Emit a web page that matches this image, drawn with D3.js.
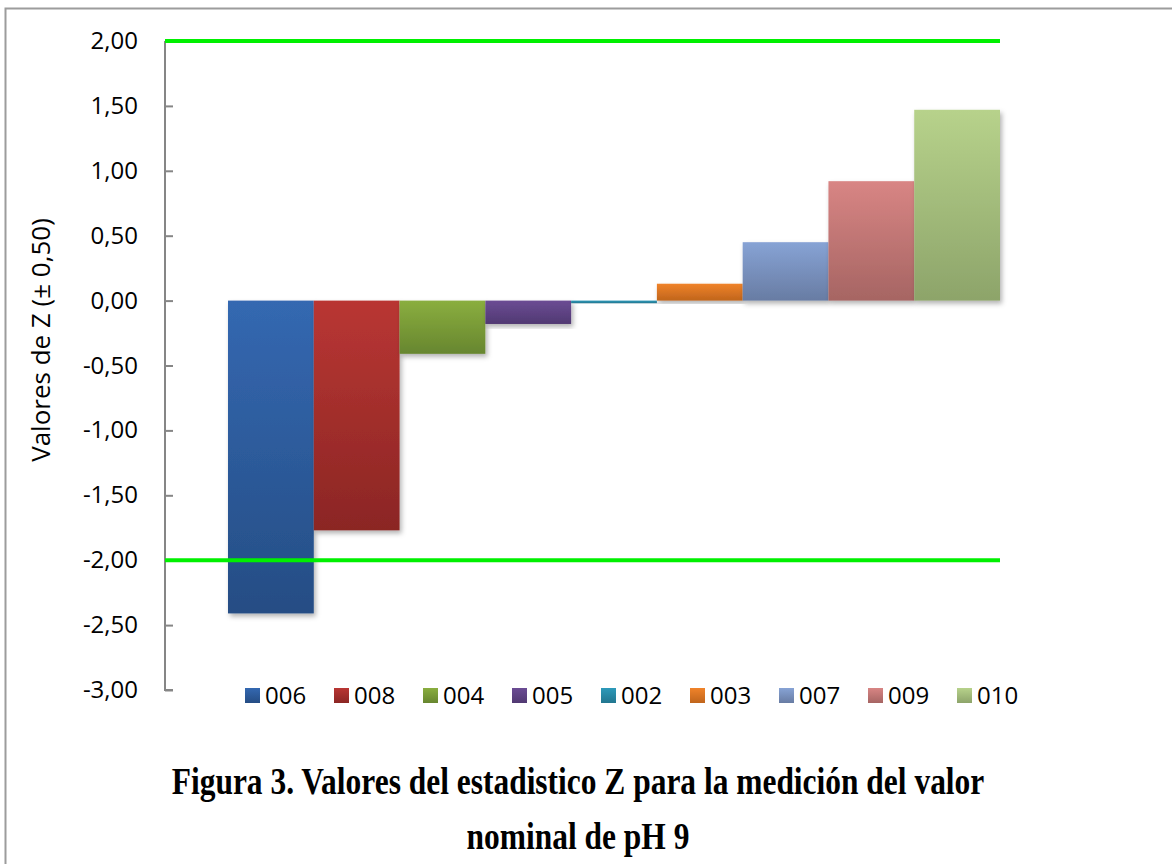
<!DOCTYPE html>
<html>
<head>
<meta charset="utf-8">
<script src="https://cdn.jsdelivr.net/npm/d3@7"></script>
<style>
  body { margin: 0; background: #fff; }
  svg { display: block; }
</style>
</head>
<body>
<div id="chart"></div>
<script>
// labs in the order they are drawn, and their Z values
var labs = ["006", "008", "004", "005", "002", "003", "007", "009", "010"];
var zValues = [-2.41, -1.77, -0.41, -0.18, -0.02, 0.13, 0.45, 0.92, 1.47];
// top / bottom colours of each bar gradient
var topColors = ["#3468b1", "#b93633", "#8aae3f", "#6b4c94", "#2d9aba", "#f0832a", "#87a3d5", "#d88584", "#b7d28b"];
var bottomColors = ["#254d84", "#8b2624", "#67862f", "#513972", "#22768f", "#c0651c", "#687ca3", "#a66563", "#8da46a"];
var yTicks = [2, 1.5, 1, 0.5, 0, -0.5, -1, -1.5, -2, -2.5, -3];
var limits = [2, -2];

var width = 1172, height = 864;

var svg = d3.select("#chart").append("svg")
    .attr("width", width)
    .attr("height", height);

// outer frame (cut off at right and bottom like the scan)
svg.append("rect")
    .attr("x", 5.5).attr("y", 8.5)
    .attr("width", width + 10).attr("height", height + 10)
    .attr("fill", "none")
    .attr("stroke", "#9c9c9c")
    .attr("stroke-width", 2);

var defs = svg.append("defs");

var shadow = defs.append("filter")
    .attr("id", "shadow")
    .attr("x", "-10%").attr("y", "-10%")
    .attr("width", "130%").attr("height", "130%");
shadow.append("feDropShadow")
    .attr("dx", 2).attr("dy", 3)
    .attr("stdDeviation", 2.5)
    .attr("flood-color", "#000")
    .attr("flood-opacity", 0.3);

labs.forEach(function(l, i) {
  var g = defs.append("linearGradient")
      .attr("id", "grad" + i)
      .attr("x1", "0%").attr("y1", "0%")
      .attr("x2", "0%").attr("y2", "100%");
  g.append("stop").attr("offset", "0%").attr("stop-color", topColors[i]);
  g.append("stop").attr("offset", "100%").attr("stop-color", bottomColors[i]);
});

var y = d3.scaleLinear()
    .domain([-3, 2])
    .range([690, 41]);

var x = d3.scaleBand()
    .domain(labs)
    .range([228, 1000])
    .padding(0);

var axisX = 165;

// bars
svg.append("g").selectAll("rect")
    .data(zValues)
    .enter().append("rect")
    .attr("x", function(d, i) { return x(labs[i]); })
    .attr("y", function(d) { return y(Math.max(0, d)); })
    .attr("width", x.bandwidth())
    .attr("height", function(d) { return Math.max(2.5, Math.abs(y(d) - y(0))); })
    .attr("fill", function(d, i) { return "url(#grad" + i + ")"; })
    .attr("filter", "url(#shadow)");

// y axis
var yAxis = d3.axisRight(y)
    .tickValues(yTicks)
    .tickSize(8)
    .tickFormat("");

var ax = svg.append("g")
    .attr("transform", "translate(" + axisX + ",0)")
    .call(yAxis);
ax.select(".domain").attr("stroke", "#868686").attr("stroke-width", 2)
    .attr("d", "M0," + y(2) + "V" + y(-3) + "H8");
ax.selectAll(".tick line").attr("stroke", "#868686").attr("stroke-width", 2);

svg.append("g").selectAll("text")
    .data(yTicks)
    .enter().append("text")
    .attr("x", 138)
    .attr("y", function(d) { return y(d) + 8; })
    .attr("text-anchor", "end")
    .style("font-family", "Open Sans")
    .style("font-size", "24px")
    .attr("fill", "#000")
    .text(function(d) { return d3.format(".2f")(d).replace(".", ",").replace("\u2212", "-"); });

// limit lines at +/-2
svg.append("g").selectAll("line")
    .data(limits)
    .enter().append("line")
    .attr("x1", axisX)
    .attr("x2", x.range()[1])
    .attr("y1", function(d) { return y(d); })
    .attr("y2", function(d) { return y(d); })
    .attr("stroke", "#00f000")
    .attr("stroke-width", 4);

// y title
svg.append("text")
    .attr("transform", "translate(50,340) rotate(-90)")
    .attr("text-anchor", "middle")
    .style("font-family", "Open Sans")
    .style("font-size", "26px")
    .text("Valores de Z (\u00b1 0,50)");

// legend
var leg = svg.append("g").selectAll("g")
    .data(labs)
    .enter().append("g")
    .attr("transform", function(d, i) { return "translate(" + (245 + i * 89) + ",688)"; });
leg.append("rect")
    .attr("width", 15).attr("height", 15)
    .attr("fill", function(d, i) { return "url(#grad" + i + ")"; });
leg.append("text")
    .attr("x", 20)
    .attr("y", 16)
    .style("font-family", "Open Sans")
    .style("font-size", "24px")
    .text(function(d) { return d; });

// caption (narrow, tall serif like the scan)
var cap = svg.append("text")
    .attr("transform", "translate(578,0) scale(0.85,1)")
    .attr("text-anchor", "middle")
    .style("font-family", "Liberation Serif")
    .style("font-weight", "bold")
    .style("font-size", "37px");
cap.append("tspan").attr("x", 0).attr("y", 794)
    .text("Figura 3. Valores del estadistico Z para la medición del valor");
cap.append("tspan").attr("x", 0).attr("y", 849)
    .text("nominal de pH 9");
</script>
</body>
</html>
